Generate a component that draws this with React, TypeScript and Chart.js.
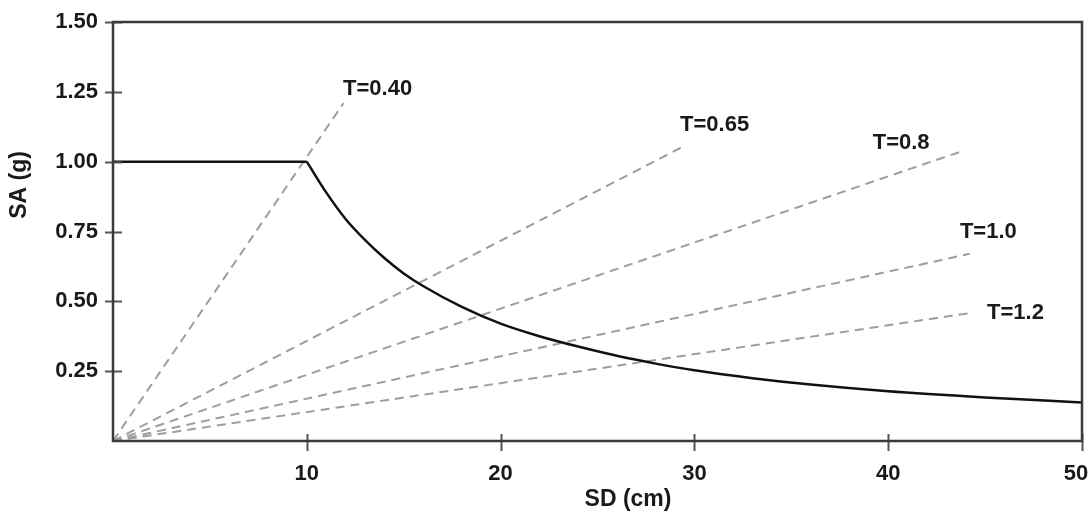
import React, { useEffect, useRef } from "react";
import { Chart, registerables } from "chart.js";

Chart.register(...registerables);

// Capacity spectrum (SA vs SD)
const plateauSD = [0, 10];
const plateauSA = [1.0, 1.0];
const curveSD = [10, 11, 12, 13, 14, 15, 16, 18, 20, 22, 24, 26, 28, 30, 33, 36, 40, 45, 50];
const curveSA = [1.0, 0.89, 0.795, 0.72, 0.655, 0.6, 0.555, 0.48, 0.42, 0.375, 0.338, 0.305, 0.277, 0.253, 0.225, 0.202, 0.178, 0.156, 0.138];

// Period lines from origin to end point
const periodLabels = ["T=0.40", "T=0.65", "T=0.8", "T=1.0", "T=1.2"];
const periodEndSD = [11.9, 29.3, 43.7, 44.2, 44.4];
const periodEndSA = [1.21, 1.05, 1.035, 0.67, 0.46];

// Label anchor (data units) for each period label
const labelSD = [11.87, 29.26, 39.2, 43.7, 45.1];
const labelSA = [1.262, 1.133, 1.068, 0.749, 0.459];

const xTicks = [10, 20, 30, 40, 50];
const yTicks = [0.25, 0.5, 0.75, 1.0, 1.25, 1.5];

const FONT = "'Liberation Sans', Arial, sans-serif";

const decorPlugin = {
  id: "decor",
  afterDatasetsDraw(chart: any) {
    const { ctx, chartArea, scales } = chart;
    const xs = scales.x;
    const ys = scales.y;
    ctx.save();
    ctx.strokeStyle = "#555";
    ctx.lineWidth = 2;
    ctx.beginPath();
    for (const v of yTicks) {
      const py = Math.round(ys.getPixelForValue(v)) + 0.5;
      ctx.moveTo(chartArea.left - 8, py);
      ctx.lineTo(chartArea.left + 9, py);
    }
    for (const v of xTicks) {
      const px = Math.round(xs.getPixelForValue(v)) + 0.5;
      ctx.moveTo(px, chartArea.bottom - 7);
      ctx.lineTo(px, chartArea.bottom + 10);
    }
    ctx.stroke();
    ctx.strokeStyle = "#3a3a3a";
    ctx.lineWidth = 2.5;
    ctx.strokeRect(chartArea.left, chartArea.top, chartArea.right - chartArea.left, chartArea.bottom - chartArea.top);
    ctx.restore();
  },
  afterDraw(chart: any) {
    const { ctx, scales } = chart;
    const xs = scales.x;
    const ys = scales.y;
    ctx.save();
    ctx.fillStyle = "#1a1a1a";
    ctx.font = `bold 22px ${FONT}`;
    ctx.textAlign = "left";
    ctx.textBaseline = "middle";
    periodLabels.forEach((t, i) => {
      ctx.fillText(t, xs.getPixelForValue(labelSD[i]), ys.getPixelForValue(labelSA[i]));
    });
    ctx.font = `bold 23px ${FONT}`;
    ctx.textAlign = "center";
    ctx.fillText("SD (cm)", 628, 500);
    ctx.font = `bold 23px ${FONT}`;
    ctx.translate(20, 185);
    ctx.rotate(-Math.PI / 2);
    ctx.fillText("SA (g)", 0, 0);
    ctx.restore();
  },
};

export default function App() {
  const ref = useRef<HTMLCanvasElement | null>(null);

  useEffect(() => {
    document.body.style.margin = "0";
    const canvas = ref.current;
    if (!canvas) return;

    const toPts = (xa: number[], ya: number[]) => xa.map((x, i) => ({ x, y: ya[i] }));

    const datasets: any[] = [
      {
        label: "plateau",
        data: toPts(plateauSD, plateauSA),
        borderColor: "#111",
        borderWidth: 2.5,
        pointRadius: 0,
        showLine: true,
        fill: false,
      },
      {
        label: "capacity",
        data: toPts(curveSD, curveSA),
        borderColor: "#111",
        borderWidth: 2.5,
        pointRadius: 0,
        showLine: true,
        cubicInterpolationMode: "monotone",
        fill: false,
      },
      ...periodLabels.map((t, i) => ({
        label: t,
        data: [
          { x: 0, y: 0 },
          { x: periodEndSD[i], y: periodEndSA[i] },
        ],
        borderColor: "#9e9e9e",
        borderWidth: 2,
        borderDash: [9, 6],
        pointRadius: 0,
        showLine: true,
        fill: false,
      })),
    ];

    const chart = new Chart(canvas, {
      type: "scatter",
      data: { datasets },
      options: {
        responsive: false,
        animation: false,
        devicePixelRatio: 1,
        layout: { padding: { top: 22, right: 10, left: 0, bottom: 0 } },
        plugins: { legend: { display: false }, tooltip: { enabled: false }, title: { display: false } },
        scales: {
          x: {
            type: "linear",
            min: 0,
            max: 50,
            afterFit: (s: any) => {
              s.height = 75;
              s.paddingLeft = 0;
              s.paddingRight = 0;
            },
            afterBuildTicks: (s: any) => {
              s.ticks = [0, ...xTicks].map((v) => ({ value: v }));
            },
            grid: { display: false, drawTicks: false },
            border: { display: false },
            ticks: {
              padding: 20,
              color: "#1a1a1a",
              font: { family: FONT, size: 22, weight: "bold" },
              callback: (v: any) => (v === 0 ? "" : v === 50 ? "50\u00a0\u00a0" : String(v)),
            },
          },
          y: {
            type: "linear",
            min: 0,
            max: 1.5,
            afterFit: (s: any) => {
              s.width = 113;
              s.paddingTop = 0;
              s.paddingBottom = 0;
            },
            afterBuildTicks: (s: any) => {
              s.ticks = [0, ...yTicks].map((v) => ({ value: v }));
            },
            grid: { display: false, drawTicks: false },
            border: { display: false },
            ticks: {
              padding: 15,
              color: "#1a1a1a",
              font: { family: FONT, size: 22, weight: "bold" },
              callback: (v: any) => (v === 0 ? "" : Number(v).toFixed(2)),
            },
          },
        },
      } as any,
      plugins: [decorPlugin],
    });

    return () => chart.destroy();
  }, []);

  return (
    <div style={{ width: 1092, height: 516, background: "#fff" }}>
      <canvas ref={ref} width={1092} height={516} style={{ display: "block" }} />
    </div>
  );
}
